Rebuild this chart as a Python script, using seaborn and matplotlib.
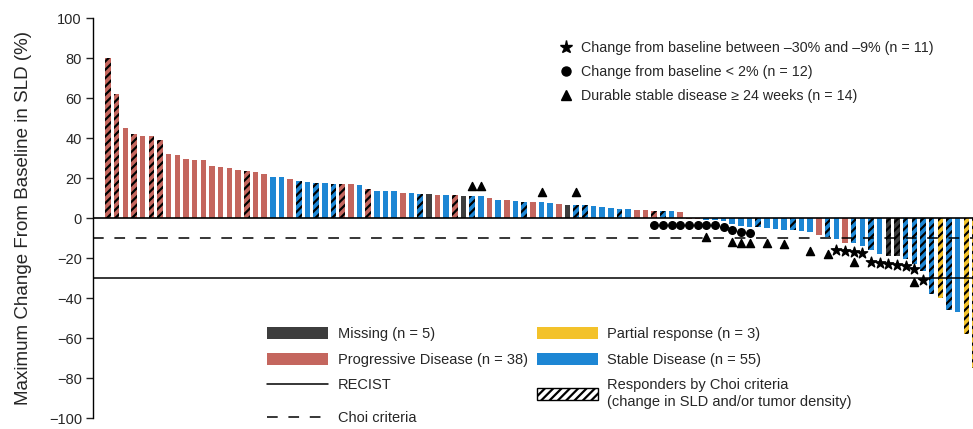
import numpy as np
import pandas as pd
import matplotlib
matplotlib.use('Agg')
import matplotlib.pyplot as plt
import seaborn as sns
from matplotlib.patches import Patch
from matplotlib.lines import Line2D

# bar values (max change from baseline in SLD, %), ordered as in the waterfall
values = [80, 62, 45, 42, 41, 41, 39, 32, 31.5, 29.5,
          29, 29, 26, 25.5, 25, 24, 23.5, 23, 22, 20.5,
          20.5, 19.5, 18.3, 17.8, 17.5, 17.3, 17.2, 17, 16.8, 16.5,
          14.7, 13.5, 13.3, 13.3, 12.7, 12.5, 12.2, 12.2, 11.7, 11.5,
          11.3, 11.2, 11, 10.8, 10, 9, 9, 8.4, 8.2, 8,
          8, 7.5, 7, 6.5, 6.5, 6.5, 6, 5.5, 5, 4.5,
          4.3, 3.8, 3.8, 3.4, 3.3, 3.3, 3.2, -0.3, -0.5, -0.8,
          -1, -1.5, -3, -4, -4.5, -4.5, -5, -5.5, -6, -6,
          -6.5, -7, -8.5, -9.5, -10.5, -12.5, -12.5, -14, -16, -18,
          -19, -19, -20.5, -23, -26.5, -38, -40, -46, -47, -58,
          -75]

# response category per bar: M missing, P progressive, S stable, R partial response
status = list("PPPPPPPPPP" "PPPPPPPPPS" "SPSSSSSPPS" "PSSSPSSMPS" "PMSSPSPSSP"
              "SSPMSSSSSS" "SPPPSSPPPS" "SSSSSSSSSS" "SSPSSPSSSS" "MMSSSSRSSR" "R")

# responders by Choi criteria (1-based bar numbers)
choi = [1, 2, 4, 6, 7, 17, 23, 25, 27, 28, 31, 37, 41, 43, 49, 55, 56, 60, 64, 65,
        76, 80, 84, 87, 89, 91, 92, 93, 94, 95, 96, 97, 98, 100, 101]

# symbols below/above bars (1-based bar number, y in %)
star_bar = [85, 86, 87, 88, 89, 90, 91, 92, 93, 94, 95]
star_y = [-16, -16.5, -17, -17.5, -22, -22.5, -23, -23.5, -24, -25.5, -31]
dot_bar = [64, 65, 66, 67, 68, 69, 70, 71, 72, 73, 74, 75]
dot_y = [-3.5, -3.5, -3.5, -3.5, -3.5, -3.5, -3.5, -3.5, -4.3, -6, -6.8, -7.6]
tri_bar = [43, 44, 51, 55, 70, 73, 74, 75, 77, 79, 82, 84, 87, 94]
tri_y = [16, 16, 13, 13, -9.5, -12, -12.5, -12.5, -12.5, -13, -16.5, -18, -22, -32]

colors = {'M': '#3d3d3d', 'P': '#c4665e', 'S': '#1d86d4', 'R': '#f3c22a'}

keys = [str(i) for i in range(len(values))]
df = pd.DataFrame({'bar': keys, 'value': values, 'status': status})
pal = {k: colors[s] for k, s in zip(keys, status)}

sns.set_style('white')
plt.rcParams['font.family'] = ['Liberation Sans', 'DejaVu Sans']
plt.rcParams['hatch.linewidth'] = 1.6

fig = plt.figure(figsize=(9.73, 4.29), dpi=100)
ax = fig.add_axes([0.0956, 0.0256, 0.9044, 0.9324])

sns.barplot(data=df, x='bar', y='value', hue='bar', order=keys, hue_order=keys,
            palette=pal, dodge=False, width=0.64, legend=False, ax=ax, saturation=1)

bars = sorted(ax.patches, key=lambda p: p.get_x())
for i, p in enumerate(bars):
    p.set_linewidth(0)
    if i + 1 in choi:
        p.set_hatch('////')
        p.set_edgecolor('black')

ax.axhline(0, color='black', lw=1.2, zorder=1)
ax.axhline(-30, color='black', lw=1.1, zorder=1)
ax.axhline(-10, color='black', lw=1.1, dashes=(7, 7), zorder=1)

ax.scatter([b - 1 for b in star_bar], star_y, marker='*', s=60, color='black', zorder=5)
ax.scatter([b - 1 for b in dot_bar], dot_y, marker='o', s=30, color='black', zorder=5)
ax.scatter([b - 1 for b in tri_bar], tri_y, marker='^', s=34, color='black', zorder=5)

ax.set_xlim(-1.73, 99.77)
ax.set_ylim(-100, 100)
ax.set_yticks(np.arange(-100, 101, 20))
ax.set_xticks([])
ax.set_xlabel('')
ax.set_ylabel('Maximum Change From Baseline in SLD (%)', fontsize=13.5, labelpad=12)
ax.tick_params(axis='y', left=True, length=5, width=1, labelsize=10.5, direction='out', pad=3)
for s in ['top', 'right', 'bottom']:
    ax.spines[s].set_visible(False)
ax.spines['left'].set_color('black')
ax.spines['left'].set_linewidth(1)

sym_handles = [
    Line2D([], [], marker='*', ls='', color='black', markersize=9.5),
    Line2D([], [], marker='o', ls='', color='black', markersize=6.5),
    Line2D([], [], marker='^', ls='', color='black', markersize=7),
]
sym_labels = ['Change from baseline between \u201330% and \u20139% (n = 11)',
              'Change from baseline < 2% (n = 12)',
              'Durable stable disease \u2265 24 weeks (n = 14)']
fig.legend(sym_handles, sym_labels, loc='upper left',
           bbox_to_anchor=(0.5665, 0.922), frameon=False, fontsize=10.3,
           handlelength=1, handletextpad=0.6, labelspacing=0.7, borderpad=0)

cat_handles = [
    Patch(facecolor=colors['M'], lw=0),
    Patch(facecolor=colors['P'], lw=0),
    Line2D([], [], color='black', lw=1.1),
    Patch(facecolor=colors['R'], lw=0),
    Patch(facecolor=colors['S'], lw=0),
    Patch(facecolor='white', edgecolor='black', hatch='////', lw=1),
]
cat_labels = ['Missing (n = 5)', 'Progressive Disease (n = 38)', 'RECIST',
              'Partial response (n = 3)', 'Stable Disease (n = 55)',
              'Responders by Choi criteria\n(change in SLD and/or tumor density)']
fig.legend(cat_handles, cat_labels, loc='upper left', ncol=2,
           bbox_to_anchor=(0.267, 0.255), frameon=False, fontsize=10.5,
           handlelength=4.2, handleheight=0.9, handletextpad=0.65,
           labelspacing=0.8, columnspacing=0.6, borderpad=0)

fig.legend([Line2D([], [], color='black', lw=1.1, dashes=(7, 7))], ['Choi criteria'],
           loc='upper left', bbox_to_anchor=(0.267, 0.058), frameon=False, fontsize=10.5,
           handlelength=4.2, handletextpad=0.65, borderpad=0)

fig.savefig('out.png', dpi=100)
